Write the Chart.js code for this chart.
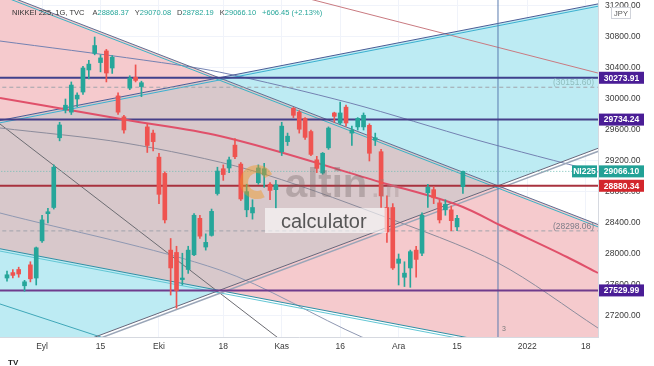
<!DOCTYPE html>
<html>
<head>
<meta charset="utf-8">
<script src="https://cdn.jsdelivr.net/npm/chart.js@4.4.0/dist/chart.umd.min.js"></script>
<style>
html, body { margin: 0; padding: 0; background: #fff; }
</style>
</head>
<body>
<canvas id="myChart" width="654" height="366"></canvas>
<script>
// daily candles, NIKKEI 225
var dates = ["24.08","25.08","26.08","27.08","30.08","31.08",
  "01.09","02.09","03.09","06.09","07.09","08.09","09.09","10.09","13.09","14.09","15.09","16.09","17.09","21.09","22.09","24.09","27.09","28.09","29.09","30.09",
  "01.10","04.10","05.10","06.10","07.10","08.10","11.10","12.10","13.10","14.10","15.10","18.10","19.10","20.10","21.10","22.10","25.10","26.10","27.10","28.10","29.10",
  "01.11","02.11","04.11","05.11","08.11","09.11","10.11","11.11","12.11","15.11","16.11","17.11","18.11","19.11","22.11","24.11","25.11","26.11","29.11","30.11",
  "01.12","02.12","03.12","06.12","07.12","08.12","09.12","10.12","13.12","14.12","15.12","16.12"];
var opens = [27690,27760,27800,27590,27860,27690,
  28170,28520,28600,29500,29860,29830,30000,30090,30375,30590,30470,30620,30400,30040,29770,30140,30280,30160,29640,29560,
  29250,29040,28050,28020,27670,27800,27990,28460,28090,28240,28780,29100,29110,29405,29160,28570,28530,28920,29020,28900,28830,
  29320,29450,29880,29830,29750,29580,29215,29045,29370,29820,29690,29895,29560,29640,29640,29660,29470,29320,28600,28600,
  27880,27700,27820,28050,28010,28790,28830,28660,28570,28570,28350,28868.37];
var highs = [27780,27800,27830,27660,27900,28090,
  28500,28590,29150,29700,30000,30220,30080,30420,30500,30800,30570,30640,30560,30080,29790,30300,30440,30230,29680,29600,
  29300,29060,28200,28100,28010,28100,28520,28500,28260,28580,29120,29150,29250,29490,29180,28900,28700,29150,29170,28920,28950,
  29700,29560,29890,29850,29760,29600,29260,29310,29640,29830,29960,29920,29650,29760,29820,29680,29560,29350,28750,28650,
  28000,27900,28050,28100,28530,28900,28870,28700,28700,28620,28500,29070.08];
var lows = [27650,27690,27700,27520,27640,27600,
  28150,28400,28580,29460,29820,29800,29900,30060,30260,30570,30350,30220,30330,29800,29560,30120,30220,30030,29310,29330,
  28650,28400,27470,27300,27600,27750,27980,28200,28050,28230,28760,28950,29050,29230,28690,28480,28450,28900,28860,28700,28590,
  29270,29400,29760,29560,29480,29270,29050,29030,29350,29700,29670,29650,29400,29600,29600,29200,29400,28600,28150,27800,
  27600,27580,27570,27700,27980,28600,28650,28400,28500,28300,28300,28782.19];
var closes = [27732,27724,27742,27641,27680,28080,
  28440,28545,29120,29665,29920,30180,30050,30400,30450,30690,30530,30335,30540,29830,29600,30270,30240,30210,29400,29450,
  28770,28440,27820,27530,27690,28050,28500,28230,28150,28550,29070,29025,29215,29255,28710,28805,28600,29110,29100,28820,28893,
  29650,29520,29790,29610,29505,29285,29105,29300,29625,29776,29820,29690,29600,29750,29790,29300,29500,28750,28285,27820,
  27935,27753,28030,27930,28500,28860,28725,28440,28640,28430,28460,29066.10];

var priceTicks = [27200, 27600, 28000, 28400, 28800, 29200, 29600, 30000, 30400, 30800, 31200];
var timeTickPos = [6, 16, 26, 37, 47, 57, 67, 77, 89, 99];
var timeTickText = ["Eyl", "15", "Eki", "18", "Kas", "16", "Ara", "15", "2022", "18"];

var levels = [30273.91, 29734.24, 28880.34, 27529.99];
var dashedLevels = [30151.60, 28298.06];
var lastPrice = 29066.10;
var markerBar = 84;
var symbolText = "NIKKEI 225, 1G, TVC";
var ohlcKeys = ["A", "Y", "D", "K", ""];
var ohlcVals = ["28868.37", "29070.08", "28782.19", "29066.10", "+606.45 (+2.13%)"];

// drawings, as [bar index, price]
var fanA1 = [[-2, 31393], [36.3, 30274], [84, 28880], [102, 28354]];
var fanA2 = [[-2, 29711], [36.3, 30274], [84, 30975], [102, 31240]];
var fanC1 = [[-2, 26446], [36.3, 27530], [84, 28880], [102, 29389]];
var fanC2 = [[-2, 28079], [36.3, 27530], [84, 26846], [102, 26589]];
var regLine = [[-1.2, 30013], [20.5, 29729], [36.4, 29523], [63.8, 28929], [78, 28606], [84.3, 28374], [95.8, 27961], [101.1, 27755]];
var arcUpper = [[-1.2, 30748], [23.3, 30503], [36.3, 30348], [58.7, 29948], [80.4, 29471], [101.1, 29058]];
var arcMiddle = [[-1.2, 29626], [20.2, 29432], [41.6, 29084], [63.8, 28503], [84, 27884], [101.1, 27045]];
var arcLower = [[-1.2, 28529], [36.4, 27794], [60.7, 26929], [70.7, 26671]];
var steepLine = [[-1.2, 29677], [48.4, 26800]];
var lowerTeal = [[-1.2, 27355], [17.6, 26890]];
var topBrown = [[51.8, 31290], [101.1, 30335]];

Chart.defaults.font.family = "'Liberation Sans', Arial, sans-serif";
Chart.defaults.font.size = 8.5;

var green = "#26a69a", red = "#ef5350";

function pts(a, shift) {
  return a.map(function (p) { return { x: p[0], y: p[1] + (shift || 0) }; });
}

var ds = [];

function addRegion(top, bottom, color) {
  var idx = ds.length;
  ds.push({ type: "line", data: pts(top), borderColor: "rgba(0,0,0,0)", borderWidth: 0, pointRadius: 0,
    fill: { target: idx + 1 }, backgroundColor: color, order: 30 });
  ds.push({ type: "line", data: pts(bottom), borderColor: "rgba(0,0,0,0)", borderWidth: 0, pointRadius: 0,
    fill: false, order: 30 });
}

function addLine(a, color, width, order, extra) {
  var d = { type: "line", data: pts(a), borderColor: color, borderWidth: width, pointRadius: 0,
    fill: false, tension: 0, order: order, clip: 0 };
  for (var k in extra) d[k] = extra[k];
  ds.push(d);
}

var pink = "#f5cacd", cyan = "#bdebf3", grey = "#d8c8cb";
addRegion([fanA1[0], fanA1[1]], [fanA2[0], fanA2[1]], pink);
addRegion([fanA2[1], fanA2[2], fanA2[3]], [fanA1[1], fanA1[2], fanC1[3]], cyan);
addRegion([fanA2[0], fanA2[1], fanA1[2]], [fanC2[0], fanC2[1], fanC1[2]], grey);
addRegion([fanC2[0], fanC2[1]], [fanC1[0], fanC1[1]], cyan);
addRegion([fanC1[1], fanC1[2], fanA1[3]], [fanC2[1], fanC2[2], fanC2[3]], pink);

// thin arcs and helper lines
addLine(arcUpper, "#7482b2", 1, 9, { tension: 0.3 });
addLine(arcMiddle, "#8c8c9c", 1, 9, { tension: 0.3 });
addLine(arcLower, "#8f98b2", 1, 9, { tension: 0.3 });
addLine(steepLine, "#6c6c72", 1, 9);
addLine(lowerTeal, "#3fa7b8", 1, 9);
addLine(topBrown, "#c97a80", 1, 9);

// double fan lines
addLine(fanA1, "#5f6f92", 1, 8);
ds.push({ type: "line", data: pts(fanA1, -30), borderColor: "#39b3c6", borderWidth: 1, pointRadius: 0, fill: false, order: 8, clip: 0 });
addLine(fanA2, "#4a5c96", 1, 8);
ds.push({ type: "line", data: pts(fanA2, -30), borderColor: "#3cb0d0", borderWidth: 1, pointRadius: 0, fill: false, order: 8, clip: 0 });
addLine(fanC1, "#66667a", 1, 8);
ds.push({ type: "line", data: pts(fanC1, -40), borderColor: "#9aa6b8", borderWidth: 1.5, pointRadius: 0, fill: false, order: 8, clip: 0 });
addLine(fanC2, "#2f8fa5", 1, 8);
ds.push({ type: "line", data: pts(fanC2, -30), borderColor: "#63c6d4", borderWidth: 1, pointRadius: 0, fill: false, order: 8, clip: 0 });

// horizontal levels
var levelColors = ["#3f418c", "#463f88", "#a8323e", "#6f3b8c"];
levels.forEach(function (v, k) {
  addLine([[-2, v], [102, v]], levelColors[k], 2, 6);
});
dashedLevels.forEach(function (v) {
  addLine([[-2, v], [102, v]], "#a0a4ac", 1, 7, { borderDash: [4, 3] });
});
addLine([[-2, lastPrice], [102, lastPrice]], "#6fbdb4", 1, 7, { borderDash: [1, 2] });
addLine([[markerBar, 26000], [markerBar, 32000]], "#5a7bb0", 1, 7);

addLine(regLine, "#e0506a", 2, 5, { tension: 0.4, cubicInterpolationMode: "monotone" });

// candles
var candleColors = dates.map(function (d, i) { return closes[i] >= opens[i] ? green : red; });
ds.push({ type: "bar", data: dates.map(function (d, i) { return { x: i, y: [lows[i], highs[i]] }; }),
  backgroundColor: candleColors, barThickness: 1, grouped: false, order: 1 });
ds.push({ type: "bar", data: dates.map(function (d, i) { return { x: i, y: [opens[i], closes[i]] }; }),
  backgroundColor: candleColors, barThickness: 4, minBarLength: 1, grouped: false, order: 0 });

var overlay = {
  id: "overlay",
  beforeDraw: function (chart) {
    var c = chart.ctx;
    c.save();
    c.fillStyle = "#fff";
    c.fillRect(0, 0, chart.width, chart.height);
    c.restore();
  },
  afterDatasetsDraw: function (chart) {
    var c = chart.ctx;
    c.save();
    // altin.in watermark
    c.lineWidth = 8;
    c.strokeStyle = "rgba(240,150,30,0.45)";
    c.beginPath();
    c.arc(257, 182, 13, 0.35 * Math.PI, 1.85 * Math.PI);
    c.stroke();
    c.textBaseline = "alphabetic";
    c.textAlign = "left";
    c.font = "bold 40px 'Liberation Sans', Arial, sans-serif";
    c.fillStyle = "rgba(115,100,100,0.35)";
    c.fillText("altin", 285, 197);
    c.font = "bold 24px 'Liberation Sans', Arial, sans-serif";
    c.fillStyle = "rgba(150,130,130,0.3)";
    c.fillText(".in", 372, 197);
    c.fillStyle = "rgba(255,255,255,0.6)";
    c.fillRect(265, 208, 122, 25);
    c.font = "20px 'Liberation Sans', Arial, sans-serif";
    c.fillStyle = "rgba(70,70,70,0.9)";
    c.fillText("calculator", 281, 228);
    c.restore();
  },
  afterDraw: function (chart) {
    var c = chart.ctx, ys = chart.scales.y, xs = chart.scales.x, a = chart.chartArea;
    c.save();
    c.textBaseline = "middle";

    function box(x, price, w, text, bg) {
      var y = ys.getPixelForValue(price);
      c.fillStyle = bg;
      c.fillRect(x, y - 6, w, 12);
      c.fillStyle = "#fff";
      c.font = "bold 8.5px 'Liberation Sans', Arial, sans-serif";
      c.textAlign = "center";
      c.fillText(text, x + w / 2, y + 0.5);
    }
    box(a.right + 1, levels[0], 45, levels[0].toFixed(2), "#4a1d96");
    box(a.right + 1, levels[1], 45, levels[1].toFixed(2), "#4a1d96");
    box(a.right + 1, levels[2], 45, levels[2].toFixed(2), "#d3262c");
    box(a.right + 1, levels[3], 45, levels[3].toFixed(2), "#4a1d96");
    box(a.right + 1, lastPrice, 45, lastPrice.toFixed(2), "#22a196");
    box(a.right - 26, lastPrice, 25, "NI225", "#22a196");

    // dashed level captions
    c.font = "8.5px 'Liberation Sans', Arial, sans-serif";
    c.textAlign = "right";
    c.fillStyle = "#8fbdbd";
    c.fillText("(" + dashedLevels[0].toFixed(2) + ")", a.right - 4, ys.getPixelForValue(dashedLevels[0]) - 5);
    c.fillStyle = "#7d7d88";
    c.fillText("(" + dashedLevels[1].toFixed(2) + ")", a.right - 4, ys.getPixelForValue(dashedLevels[1]) - 4);

    // marker caption
    c.textAlign = "left";
    c.fillStyle = "#7a7a7a";
    c.font = "7px 'Liberation Sans', Arial, sans-serif";
    c.fillText("3", xs.getPixelForValue(markerBar) + 4, a.bottom - 8);

    // header line
    c.font = "7.5px 'Liberation Sans', Arial, sans-serif";
    c.fillStyle = "#333";
    c.fillText(symbolText, 12, 13);
    var hx = 12 + c.measureText(symbolText).width + 8;
    ohlcKeys.forEach(function (k, i) {
      c.fillStyle = "#444";
      c.fillText(k, hx, 13);
      hx += c.measureText(k).width;
      c.fillStyle = green;
      c.fillText(ohlcVals[i], hx, 13);
      hx += c.measureText(ohlcVals[i]).width + 6;
    });

    // currency tag
    c.strokeStyle = "#d0d3da";
    c.lineWidth = 1;
    c.strokeRect(611.5, 7.5, 19, 11);
    c.fillStyle = "#fff";
    c.fillRect(612, 8, 18, 10);
    c.fillStyle = "#555";
    c.font = "7.5px 'Liberation Sans', Arial, sans-serif";
    c.textAlign = "center";
    c.fillText("JPY", 621, 13.5);

    c.textAlign = "left";
    c.fillStyle = "#222";
    c.font = "bold 8px 'Liberation Sans', Arial, sans-serif";
    c.fillText("TV", 8, 363);
    c.restore();
  }
};

var ctx = document.getElementById("myChart");
var chart = new Chart(ctx, {
  type: "line",
  data: { datasets: ds },
  options: {
    responsive: false,
    devicePixelRatio: 1,
    animation: false,
    events: [],
    layout: { padding: 0 },
    plugins: {
      legend: { display: false },
      tooltip: { enabled: false },
      filler: { drawTime: "beforeDatasetsDraw", propagate: false }
    },
    scales: {
      x: {
        type: "linear",
        min: -1.198,
        max: 101.11,
        offset: false,
        grid: { color: "#f0f3fa", drawTicks: false, offset: false },
        border: { display: true, color: "#d6d9e0" },
        ticks: {
          autoSkip: false, maxRotation: 0, padding: 5, color: "#3a3a3a",
          callback: function (v, i) { return timeTickText[i]; }
        },
        afterBuildTicks: function (s) {
          s.ticks = timeTickPos.map(function (v) { return { value: v }; });
        },
        afterFit: function (s) { s.height = 29; s.paddingLeft = 0; s.paddingRight = 0; }
      },
      y: {
        type: "linear",
        position: "right",
        min: 26929,
        max: 31277.4,
        grid: { color: "#f0f3fa", drawTicks: false },
        border: { display: true, color: "#d6d9e0" },
        ticks: {
          padding: 7, color: "#3a3a3a",
          callback: function (v) { return v.toFixed(2); }
        },
        afterBuildTicks: function (s) {
          s.ticks = priceTicks.map(function (v) { return { value: v }; });
        },
        afterFit: function (s) { s.width = 56; s.paddingTop = 0; s.paddingBottom = 0; }
      }
    }
  },
  plugins: [overlay]
});
</script>
</body>
</html>
